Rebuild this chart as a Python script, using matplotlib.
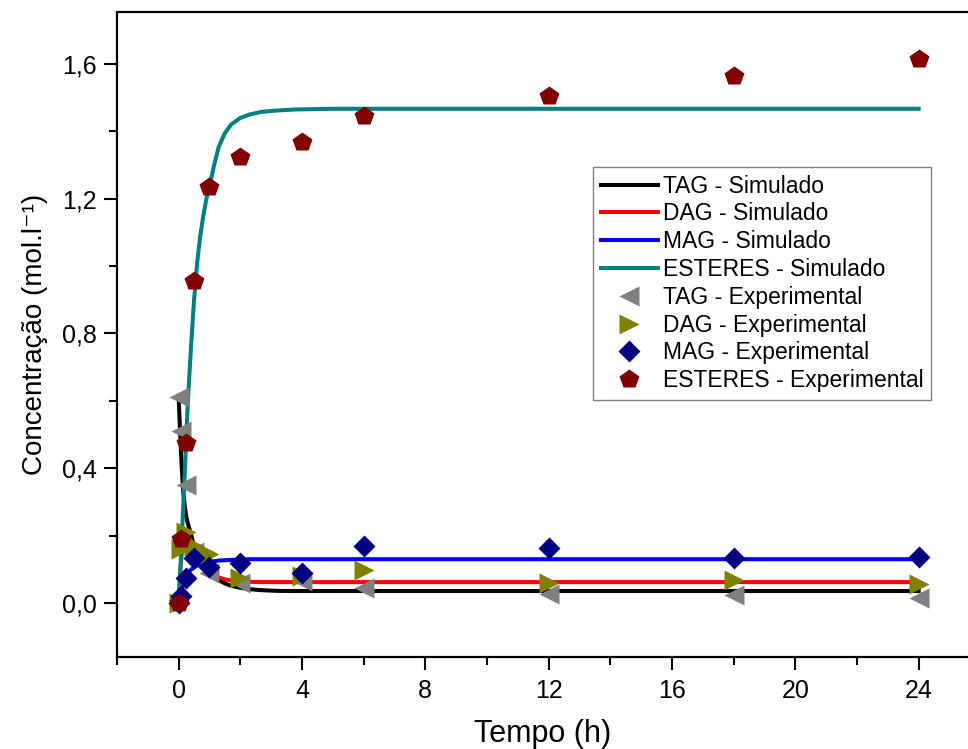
import matplotlib
matplotlib.use("Agg")
import matplotlib.pyplot as plt
from matplotlib.ticker import MultipleLocator, FixedLocator, FixedFormatter

plt.rcParams['font.family'] = ['Liberation Sans', 'DejaVu Sans']

# Simulated curves (model output sampled over time)
t_sim = [0, 0.05, 0.1, 0.15, 0.2, 0.25, 0.3, 0.4, 0.5, 0.6, 0.7, 0.8, 0.9,
         1.0, 1.15, 1.3, 1.5, 1.7, 2.0, 2.3, 2.7, 3.2, 3.8, 5, 24]
tag_sim = [0.61, 0.50, 0.40, 0.33, 0.286, 0.255, 0.235, 0.205, 0.165, 0.135,
           0.115, 0.102, 0.092, 0.085, 0.077, 0.068, 0.058, 0.051, 0.045,
           0.041, 0.038, 0.036, 0.0355, 0.0355, 0.0355]
dag_sim = [0.0, 0.09, 0.15, 0.185, 0.20, 0.205, 0.20, 0.185, 0.168, 0.156,
           0.146, 0.13, 0.113, 0.10, 0.085, 0.076, 0.070, 0.067, 0.064,
           0.063, 0.062, 0.062, 0.062, 0.062, 0.062]
mag_sim = [0.0, 0.02, 0.04, 0.057, 0.07, 0.08, 0.088, 0.099, 0.106, 0.111,
           0.115, 0.118, 0.12, 0.122, 0.124, 0.126, 0.127, 0.128, 0.129,
           0.13, 0.13, 0.13, 0.13, 0.13, 0.13]
est_sim = [0.0, 0.09, 0.19, 0.29, 0.39, 0.50, 0.60, 0.76, 0.90, 1.01, 1.09,
           1.15, 1.20, 1.236, 1.30, 1.354, 1.395, 1.42, 1.44, 1.45, 1.458,
           1.462, 1.465, 1.467, 1.467]

# Experimental measurements
t_exp = [0, 0.083, 0.25, 0.5, 1, 2, 4, 6, 12, 18, 24]
tag_exp = [0.61, 0.51, 0.35, 0.15, 0.09, 0.06, 0.065, 0.045, 0.027, 0.024, 0.015]
dag_exp = [0.0, 0.16, 0.21, 0.17, 0.145, 0.073, 0.08, 0.098, 0.058, 0.068, 0.056]
mag_exp = [0.0, 0.02, 0.075, 0.135, 0.108, 0.118, 0.09, 0.17, 0.163, 0.135, 0.136]
est_exp = [0.0, 0.189, 0.475, 0.956, 1.235, 1.324, 1.368, 1.446, 1.505, 1.564, 1.615]

x_ticks = [0, 4, 8, 12, 16, 20, 24]
x_tick_labels = ['0', '4', '8', '12', '16', '20', '24']
y_ticks = [0.0, 0.4, 0.8, 1.2, 1.6]
y_tick_labels = ['0,0', '0,4', '0,8', '1,2', '1,6']

W, H = 968, 749
fig = plt.figure(figsize=(W / 100, H / 100), dpi=100)
left, right, top, bottom = 117, 968, 12, 657
ax = fig.add_axes([left / W, 1 - bottom / H, (right - left) / W, (bottom - top) / H])

lw = 2.9
ax.plot(t_sim, tag_sim, color='black', lw=lw, label='TAG - Simulado', zorder=2)
ax.plot(t_sim, dag_sim, color='#FF0000', lw=lw, label='DAG - Simulado', zorder=2)
ax.plot(t_sim, mag_sim, color='#0000FF', lw=lw, label='MAG - Simulado', zorder=2)
ax.plot(t_sim, est_sim, color='#008080', lw=lw, label='ESTERES - Simulado', zorder=2)

ax.plot(t_exp, tag_exp, ls='none', marker='<', ms=14, color='#808080',
        mec='none', label='TAG - Experimental', zorder=3)
ax.plot(t_exp, dag_exp, ls='none', marker='>', ms=14, color='#808000',
        mec='none', label='DAG - Experimental', zorder=3)
ax.plot(t_exp, mag_exp, ls='none', marker='D', ms=11, color='#000080',
        mec='none', label='MAG - Experimental', zorder=3)
ax.plot(t_exp, est_exp, ls='none', marker='p', ms=14.5, color='#800000',
        mec='none', label='ESTERES - Experimental', zorder=3)

ax.set_xlim(-2, -2 + (right - left) / 30.833)
ax.set_ylim(-0.1603, 1.7543)

ax.xaxis.set_major_locator(FixedLocator(x_ticks))
ax.xaxis.set_major_formatter(FixedFormatter(x_tick_labels))
ax.xaxis.set_minor_locator(MultipleLocator(2))
ax.yaxis.set_major_locator(FixedLocator(y_ticks))
ax.yaxis.set_major_formatter(FixedFormatter(y_tick_labels))
ax.yaxis.set_minor_locator(MultipleLocator(0.2))

ax.tick_params(which='both', direction='out', width=1.5, top=False, right=False,
               labelsize=18, colors='black')
ax.tick_params(which='major', length=9.5)
ax.tick_params(which='minor', length=5.5)
ax.tick_params(axis='x', which='major', pad=6)
ax.tick_params(axis='y', which='major', pad=5)

for side in ['left', 'bottom', 'top']:
    ax.spines[side].set_linewidth(1.6)
ax.spines['right'].set_visible(False)

ax.set_xlabel('Tempo (h)', fontsize=22, labelpad=12)
ax.set_ylabel('Concentração (mol.l⁻¹)', fontsize=20, labelpad=10)

leg = ax.legend(loc='upper left', bbox_to_anchor=(593 / W, 1 - 167 / H),
                bbox_transform=fig.transFigure, borderaxespad=0, fontsize=16.5,
                frameon=True, fancybox=False, shadow=False, numpoints=1,
                handlelength=2.5, handletextpad=0.22, labelspacing=0.21,
                borderpad=0.33)
leg.get_frame().set_edgecolor('#606060')
leg.get_frame().set_linewidth(1.0)

fig.savefig('out.png', dpi=100)
